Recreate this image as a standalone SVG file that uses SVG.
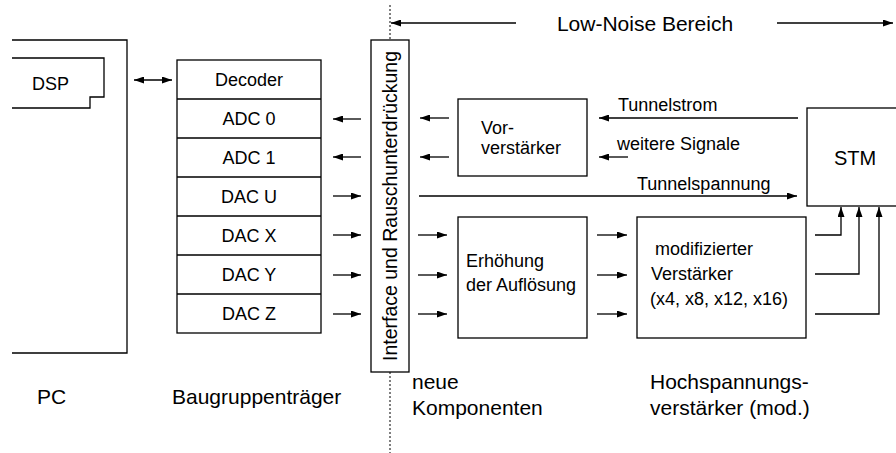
<svg xmlns="http://www.w3.org/2000/svg" width="896" height="453" viewBox="0 0 896 453">
<style>
  .box { fill: #fff; stroke: #000; stroke-width: 1.3; }
  .ln { fill: none; stroke: #000; stroke-width: 1.3; }
  .arr { fill: none; stroke: #000; stroke-width: 1.3; marker-end: url(#ah); }
  .dot { fill: none; stroke: #000; stroke-width: 1; stroke-dasharray: 2 2; }
  text { font-family: "Liberation Sans", Arial, Helvetica, sans-serif; fill: #000; }
  .t18 { font-size: 18px; }
  .t21 { font-size: 21px; }
  .mid { text-anchor: middle; }
</style>
<defs>
  <marker id="ah" viewBox="0 0 10 7" refX="10" refY="3.5" markerWidth="10" markerHeight="7" markerUnits="userSpaceOnUse" orient="auto-start-reverse">
    <path d="M0,0 L10,3.5 L0,7 z" fill="#000"/>
  </marker>
</defs>
<rect width="896" height="453" fill="#fff"/>

<g id="pc">
  <path class="ln" d="M12,40 H127 V353 H12"/>
  <text class="t21" x="37" y="404">PC</text>
</g>
<g id="dsp">
  <path class="ln" d="M12,58 H104 V97 H90 V108 H12"/>
  <text class="t18" x="32" y="90">DSP</text>
</g>

<g id="rack">
  <rect class="box" x="177" y="60" width="144" height="273"/>
  <path class="ln" d="M177,99 H321 M177,138 H321 M177,177 H321 M177,216 H321 M177,255 H321 M177,294 H321"/>
  <text class="t18 mid" x="249" y="86">Decoder</text>
  <text class="t18 mid" x="249" y="125">ADC 0</text>
  <text class="t18 mid" x="249" y="164">ADC 1</text>
  <text class="t18 mid" x="249" y="203">DAC U</text>
  <text class="t18 mid" x="249" y="242">DAC X</text>
  <text class="t18 mid" x="249" y="281">DAC Y</text>
  <text class="t18 mid" x="249" y="320">DAC Z</text>
  <text class="t21" x="172" y="404">Baugruppenträger</text>
</g>

<g id="interface">
  <rect class="box" x="371" y="40" width="38" height="332"/>
  <text class="mid" transform="translate(397,206) rotate(-90)" font-size="19.5">Interface und Rauschunterdrückung</text>
</g>

<g id="vorverstaerker">
  <rect class="box" x="458" y="99" width="129" height="77"/>
  <text class="t18" x="481" y="134">Vor-</text>
  <text class="t18" x="481" y="154">verstärker</text>
</g>

<g id="aufloesung">
  <rect class="box" x="458" y="217" width="129" height="121"/>
  <text class="t18" x="466" y="267">Erhöhung</text>
  <text class="t18" x="466" y="291">der Auflösung</text>
</g>

<g id="verstaerker">
  <rect class="box" x="637" y="217" width="169" height="121"/>
  <text class="t18" x="655" y="255">modifizierter</text>
  <text class="t18" x="651" y="280">Verstärker</text>
  <text class="t18" x="650" y="305">(x4, x8, x12, x16)</text>
</g>

<g id="stm">
  <rect class="box" x="807" y="108" width="95" height="98"/>
  <text class="mid" x="855" y="165" font-size="20">STM</text>
</g>

<g id="labels">
  <text class="t21 mid" x="645" y="31">Low-Noise Bereich</text>
  <text class="t18" x="618" y="111">Tunnelstrom</text>
  <text class="t18" x="617" y="150">weitere Signale</text>
  <text class="t18" x="637" y="190">Tunnelspannung</text>
  <text class="t21" x="412" y="389">neue</text>
  <text class="t21" x="412" y="415">Komponenten</text>
  <text class="t21" x="650" y="389">Hochspannungs-</text>
  <text class="t21" x="650" y="415">verstärker (mod.)</text>
</g>

<g id="connectors">
  <path class="dot" d="M390,5 V40 M390,372 V453"/>
  <path class="arr" d="M516,23 H391"/>
  <path class="arr" d="M777,23 H893"/>
  <path class="arr" d="M134,80 H172" marker-start="url(#ah)"/>
  <path class="arr" d="M361,119 H333"/>
  <path class="arr" d="M361,157 H333"/>
  <path class="arr" d="M333,196 H361"/>
  <path class="arr" d="M333,235 H361"/>
  <path class="arr" d="M333,275 H361"/>
  <path class="arr" d="M333,314 H361"/>
  <path class="arr" d="M449,118 H420"/>
  <path class="arr" d="M449,157 H420"/>
  <path class="arr" d="M798,118 H599"/>
  <path class="arr" d="M628,157 H599"/>
  <path class="arr" d="M419,196 H797"/>
  <path class="arr" d="M418,235 H447"/>
  <path class="arr" d="M418,275 H447"/>
  <path class="arr" d="M418,314 H447"/>
  <path class="arr" d="M597,235 H627"/>
  <path class="arr" d="M597,275 H627"/>
  <path class="arr" d="M597,314 H627"/>
  <path class="arr" d="M815,235 H841 V207"/>
  <path class="arr" d="M815,274 H859 V207"/>
  <path class="arr" d="M815,314 H879 V207"/>
</g>
</svg>
